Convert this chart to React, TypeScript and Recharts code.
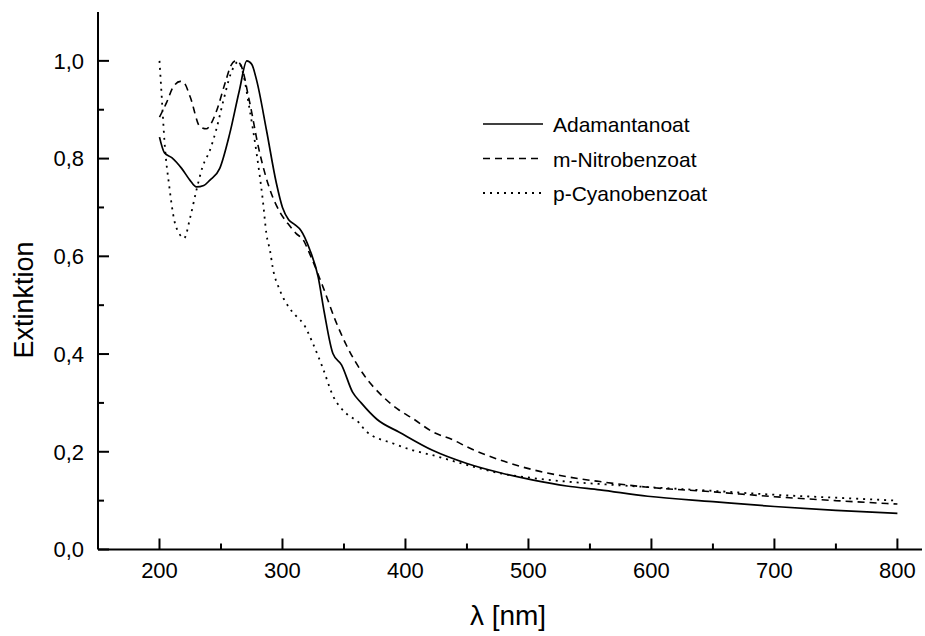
import React from 'react';
import { LineChart, Line, XAxis, YAxis } from 'recharts';

// Extinktion vs. Wellenlänge
const adamantanoatNm = [200, 204, 210, 218, 225, 230, 236, 241, 249, 257, 265, 271, 275, 279, 287, 295, 300, 305, 310, 315, 322, 329, 334, 341, 348, 357, 364, 377, 395, 422, 450, 477, 504, 531, 558, 597, 650, 700, 750, 800];
const adamantanoatExt = [0.844, 0.812, 0.802, 0.78, 0.755, 0.742, 0.745, 0.756, 0.78, 0.85, 0.94, 1.0, 0.993, 0.96, 0.858, 0.75, 0.7, 0.675, 0.665, 0.653, 0.615, 0.558, 0.485, 0.401, 0.378, 0.322, 0.3, 0.266, 0.24, 0.203, 0.176, 0.157, 0.142, 0.13, 0.122, 0.109, 0.098, 0.088, 0.08, 0.074];

const nitroNm = [200, 206, 211, 217, 220, 225, 233, 238, 242, 246, 254, 258, 262, 266, 273, 281, 290, 298, 306, 311, 317, 322, 333, 343, 352, 366, 382, 395, 406, 422, 439, 450, 477, 504, 531, 558, 595, 650, 700, 750, 800];
const nitroExt = [0.885, 0.916, 0.946, 0.958, 0.955, 0.926, 0.865, 0.861, 0.872, 0.895, 0.96, 0.99, 1.0, 0.992, 0.919, 0.817, 0.735, 0.69, 0.662, 0.647, 0.633, 0.606, 0.537, 0.469, 0.418, 0.358, 0.312, 0.285, 0.268, 0.241, 0.224, 0.21, 0.183, 0.163, 0.149, 0.139, 0.128, 0.118, 0.108, 0.1, 0.093];

const cyanoNm = [200, 202, 204, 208, 212, 216, 220, 225, 230, 235, 241, 246, 252, 258, 264, 268, 273, 279, 284, 287, 290, 292, 298, 306, 311, 317, 325, 333, 341, 352, 362, 368, 390, 406, 422, 450, 477, 504, 531, 558, 595, 650, 700, 750, 800];
const cyanoExt = [1.0, 0.919, 0.837, 0.742, 0.674, 0.647, 0.637, 0.68, 0.735, 0.783, 0.817, 0.858, 0.919, 0.974, 0.998, 0.974, 0.905, 0.81, 0.715, 0.645, 0.61, 0.578, 0.53, 0.493, 0.478, 0.462, 0.42, 0.37, 0.315, 0.278, 0.26, 0.242, 0.217, 0.203, 0.193, 0.173, 0.156, 0.146, 0.139, 0.134, 0.128, 0.12, 0.112, 0.106, 0.1];

const seriesNames = ['Adamantanoat', 'm-Nitrobenzoat', 'p-Cyanobenzoat'];

const xTicks = [200, 250, 300, 350, 400, 450, 500, 550, 600, 650, 700, 750, 800];
const xMajor = [200, 300, 400, 500, 600, 700, 800];
const yTicks = [0, 0.1, 0.2, 0.3, 0.4, 0.5, 0.6, 0.7, 0.8, 0.9, 1.0];
const yMajor = [0, 0.2, 0.4, 0.6, 0.8, 1.0];

const FONT = '"Liberation Sans", Arial, sans-serif';

const toRows = (nm: number[], ext: number[]) => nm.map((x, i) => ({ nm: x, v: ext[i] }));

const series = [
  { name: seriesNames[0], data: toRows(adamantanoatNm, adamantanoatExt), dash: undefined as string | undefined, width: 1.7 },
  { name: seriesNames[1], data: toRows(nitroNm, nitroExt), dash: '7 5', width: 1.6 },
  { name: seriesNames[2], data: toRows(cyanoNm, cyanoExt), dash: '2 5', width: 1.8 },
];

const X_MARGIN = 13;
const Y_MARGIN = 14;

const XTick = (props: any) => {
  const { x, y, payload } = props;
  const major = xMajor.includes(payload.value);
  const axisY = y - X_MARGIN;
  return (
    <g>
      <line x1={x} x2={x} y1={axisY} y2={axisY - (major ? 11 : 6)} stroke="#000" strokeWidth={2} />
      {major && (
        <text x={x} y={y} dy="0.71em" textAnchor="middle" fontSize={22} fontFamily={FONT} fill="#000">
          {payload.value}
        </text>
      )}
    </g>
  );
};

const YTick = (props: any) => {
  const { x, y, payload } = props;
  const major = yMajor.some(m => Math.abs(m - payload.value) < 1e-6);
  const axisX = x + Y_MARGIN;
  return (
    <g>
      <line x1={axisX} x2={axisX + (major ? 11 : 6)} y1={y} y2={y} stroke="#000" strokeWidth={2} />
      {major && (
        <text x={x} y={y} dy="0.355em" textAnchor="end" fontSize={22} fontFamily={FONT} fill="#000">
          {payload.value.toFixed(1).replace('.', ',')}
        </text>
      )}
    </g>
  );
};

export default function App() {
  return (
    <div style={{ position: 'absolute', left: 0, top: 0, width: 925, height: 636, background: '#fff' }}>
      <LineChart width={925} height={636} margin={{ top: 12, right: 3, bottom: 0, left: 0 }}>
        <XAxis
          type="number"
          dataKey="nm"
          domain={[150, 820]}
          ticks={xTicks}
          interval={0}
          tickLine={false}
          tickSize={0}
          tickMargin={X_MARGIN}
          tick={<XTick />}
          axisLine={{ stroke: '#000', strokeWidth: 2 }}
          height={86.5}
          allowDataOverflow
        />
        <YAxis
          type="number"
          dataKey="v"
          domain={[0, 1.1]}
          ticks={yTicks}
          interval={0}
          tickLine={false}
          tickSize={0}
          tickMargin={Y_MARGIN}
          tick={<YTick />}
          axisLine={{ stroke: '#000', strokeWidth: 2 }}
          width={98}
          allowDataOverflow
        />
        {series.map(s => (
          <Line
            key={s.name}
            data={s.data}
            dataKey="v"
            name={s.name}
            type="monotone"
            stroke="#000"
            strokeWidth={s.width}
            strokeDasharray={s.dash}
            dot={false}
            activeDot={false}
            isAnimationActive={false}
          />
        ))}
        <g transform="translate(480,110)">
          {series.map((s, i) => (
            <g key={s.name}>
              <line x1={3} x2={63} y1={14 + i * 34.5} y2={14 + i * 34.5} stroke="#000" strokeWidth={s.width} strokeDasharray={s.dash} />
              <text x={73} y={14 + i * 34.5 + 8} fontSize={21} fontFamily={FONT} fill="#000">{s.name}</text>
            </g>
          ))}
        </g>
        <text x={508} y={625} textAnchor="middle" fontSize={28} fontFamily={FONT} fill="#000">λ [nm]</text>
        <text transform="translate(33,300) rotate(-90)" textAnchor="middle" fontSize={27} fontFamily={FONT} fill="#000">Extinktion</text>
      </LineChart>
    </div>
  );
}
